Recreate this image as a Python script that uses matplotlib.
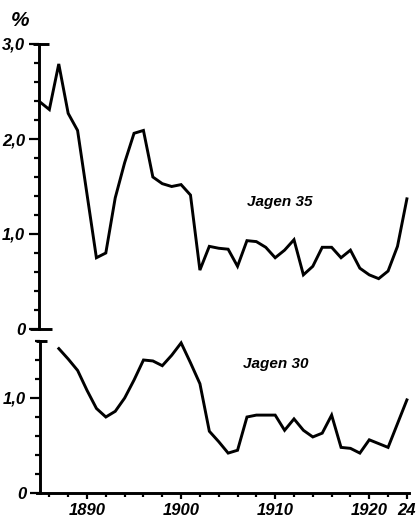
import matplotlib
matplotlib.use("Agg")
import matplotlib.pyplot as plt
import matplotlib.transforms as mtransforms
from matplotlib.ticker import MultipleLocator, FixedLocator

plt.rcParams['font.family'] = ['Liberation Sans', 'DejaVu Sans']

# Annual percentages, Jagen 35 (1885-1924)
years_35 = list(range(1885, 1925))
jagen_35 = [2.39, 2.31, 2.79, 2.27, 2.09, 1.42, 0.75, 0.80, 1.38, 1.75,
            2.06, 2.09, 1.60, 1.53, 1.50, 1.52, 1.41, 0.62, 0.87, 0.85,
            0.84, 0.66, 0.93, 0.92, 0.86, 0.75, 0.83, 0.94, 0.57, 0.66,
            0.86, 0.86, 0.75, 0.83, 0.64, 0.57, 0.53, 0.61, 0.87, 1.37]

# Annual percentages, Jagen 30 (1887-1924)
years_30 = list(range(1887, 1925))
jagen_30 = [1.52, 1.41, 1.29, 1.08, 0.89, 0.80, 0.86, 1.00, 1.19, 1.40,
            1.39, 1.34, 1.45, 1.58, 1.37, 1.15, 0.65, 0.54, 0.42, 0.45,
            0.80, 0.82, 0.82, 0.82, 0.66, 0.78, 0.66, 0.59, 0.63, 0.82,
            0.48, 0.47, 0.42, 0.56, 0.52, 0.48, 0.73, 0.98]

top_ticks = [0, 1, 2, 3]
top_labels = ['0', '1,0', '2,0', '3,0']
bottom_ticks = [0, 1]
bottom_labels = ['0', '1,0']
year_ticks = [1890, 1900, 1910, 1920, 1924]
year_labels = ['1890', '1900', '1910', '1920', '24']

W, H = 416, 519
fig = plt.figure(figsize=(W / 100, H / 100), dpi=100)

LW = 2.1
lab = dict(style='italic', weight='bold', fontsize=12)


def frac_box(left, top, right, bottom):
    return [left / W, 1 - bottom / H, (right - left) / W, (bottom - top) / H]


ax1 = fig.add_axes(frac_box(39, 44, 410, 329))
ax2 = fig.add_axes(frac_box(40, 341, 410, 493))

ax1.set_xlim(1884.9, 1924.33)
ax2.set_xlim(1885.0, 1924.33)
ax1.set_ylim(0, 3.0)
ax2.set_ylim(0, 1.6)

ax1.plot(years_35, jagen_35, color='black', lw=LW, solid_joinstyle='miter', clip_on=False)
ax2.plot(years_30, jagen_30, color='black', lw=LW, solid_joinstyle='miter', clip_on=False)

for ax in (ax1, ax2):
    for s in ('top', 'right'):
        ax.spines[s].set_visible(False)
    ax.spines['left'].set_linewidth(LW)
    ax.yaxis.set_minor_locator(MultipleLocator(0.2))
    ax.tick_params(axis='y', which='major', direction='out', length=7.5, width=1.6, pad=2.5)
    ax.tick_params(axis='y', which='minor', direction='out', length=3.5, width=1.6)

ax1.spines['bottom'].set_visible(False)
ax1.tick_params(axis='x', which='both', bottom=False, labelbottom=False)
ax1.set_yticks(top_ticks)
ax1.set_yticklabels(top_labels, **lab)

ax2.spines['bottom'].set_linewidth(LW)
ax2.spines['bottom'].set_bounds(1884.7, 1924.2)
ax2.set_yticks(bottom_ticks)
ax2.set_yticklabels(bottom_labels, **lab)
ax2.set_xticks(year_ticks)
ax2.set_xticklabels(year_labels, **lab)
ax2.xaxis.set_minor_locator(FixedLocator(list(range(1886, 1925, 2))))
ax2.tick_params(axis='x', which='major', direction='out', length=4.5, width=1.6, pad=3)
ax2.tick_params(axis='x', which='minor', direction='out', length=3.0, width=1.6)


# caps at the ends of the vertical scales
def cap(ax, y, left_px, right_px):
    tr = mtransforms.blended_transform_factory(ax.transAxes, ax.transData)
    width = ax.get_position().width * W
    ax.plot([-left_px / width, right_px / width], [y, y], color='black', lw=LW,
            transform=tr, clip_on=False, solid_capstyle='butt')


cap(ax1, 3.0, 6, 10)
cap(ax1, 0.0, 9, 13)
cap(ax2, 1.6, 4, 7)

fig.text(20 / W, 1 - 20 / H, '%', ha='center', va='center',
         fontsize=15, weight='bold', style='italic')
fig.text(280 / W, 1 - 202 / H, 'Jagen 35', ha='center', va='center',
         style='italic', weight='bold', fontsize=11)
fig.text(276 / W, 1 - 364 / H, 'Jagen 30', ha='center', va='center',
         style='italic', weight='bold', fontsize=11)

fig.savefig('out.png', dpi=100, facecolor='white')
